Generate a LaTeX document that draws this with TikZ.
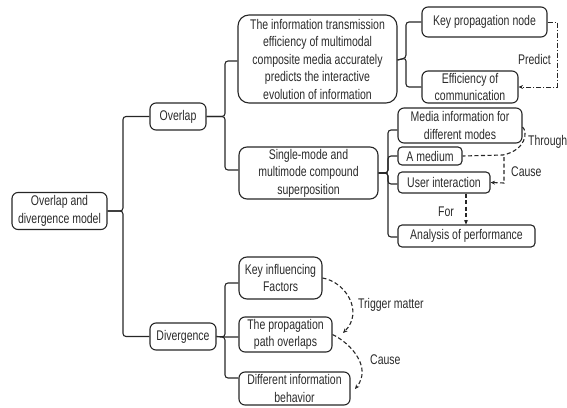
\documentclass[tikz,border=0pt]{standalone}
\usepackage{fontspec}
\setmainfont{Liberation Sans}[FakeStretch=0.75]
\usetikzlibrary{arrows.meta}
\definecolor{txt}{HTML}{2A2A2A}
\tikzset{
  box/.style={draw=black!85, line width=1.1pt, rounded corners=6pt, align=center, inner sep=0pt,
    text=txt, font=\fontsize{14}{17.5}\selectfont},
  tree/.style={draw=black!85, line width=1.1pt, rounded corners=3pt},
  rel/.style={draw=black!85, line width=1.1pt, dashed, dash pattern=on 4pt off 2.5pt},
  reldot/.style={draw=black!85, line width=1pt, dash pattern=on 5pt off 2pt on 1pt off 2pt},
  tip/.style={-{Stealth[length=4.5pt,width=4pt]}},
  lbl/.style={text=txt, font=\fontsize{14}{17.5}\selectfont, inner sep=0pt}
}
\begin{document}
\begin{tikzpicture}[x=1pt,y=-1pt]
\useasboundingbox (0,0) rectangle (567,407);
% nodes
\node[box, minimum width=95pt, minimum height=37pt] (root) at (59.5,211) {Overlap and\\divergence model};
\node[box, minimum width=56pt, minimum height=27pt] (ov) at (178,116.5) {Overlap};
\node[box, minimum width=66pt, minimum height=27pt] (dv) at (183,336.5) {Divergence};
\node[box, rounded corners=11pt, minimum width=159pt, minimum height=88pt] (big) at (317.5,59) {The information transmission\\efficiency of multimodal\\composite media accurately\\predicts the interactive\\evolution of information};
\node[box, rounded corners=8pt, minimum width=139pt, minimum height=52pt] (single) at (308.5,173) {Single-mode and\\multimode compound\\superposition};
\node[box, minimum width=125pt, minimum height=30pt] (keyp) at (484.5,22) {Key propagation node};
\node[box, minimum width=96pt, minimum height=32pt] (eff) at (470,87) {Efficiency of\\communication};
\node[box, minimum width=124pt, minimum height=35pt] (media) at (460,125.5) {Media information for\\different modes};
\node[box, rounded corners=4pt, minimum width=64pt, minimum height=18pt] (amed) at (430,156) {A medium};
\node[box, rounded corners=4pt, minimum width=92pt, minimum height=21pt] (user) at (444,182.5) {User interaction};
\node[box, rounded corners=4pt, minimum width=137pt, minimum height=22pt] (anal) at (466.5,236) {Analysis of performance};
\node[box, rounded corners=8pt, minimum width=83pt, minimum height=42pt] (keyi) at (280.5,278) {Key influencing\\Factors};
\node[box, minimum width=93pt, minimum height=35pt] (prop) at (285.5,334.5) {The propagation\\path overlaps};
\node[box, minimum width=111pt, minimum height=33pt] (diff) at (294.5,388.5) {Different information\\behavior};
% tree connectors
\draw[tree] (root.east) -- (123,211) |- (ov.west);
\draw[tree] (root.east) -- (123,211) |- (dv.west);
\draw[tree] (ov.east) -- (225,116.5) |- (big.west |- 0,61);
\draw[tree] (ov.east) -- (225,116.5) |- (single.west |- 0,170);
\draw[tree] (big.east |- 0,60) -- (406,58) |- (keyp.west);
\draw[tree] (big.east |- 0,60) -- (406,58) |- (eff.west);
\draw[tree] (single.east |- 0,173) -- (388,173) |- (media.west |- 0,130);
\draw[tree] (single.east |- 0,173) -- (388,173) |- (amed.west);
\draw[tree] (single.east |- 0,173) -- (388,173) |- (user.west |- 0,184);
\draw[tree] (single.east |- 0,173) -- (388,173) |- (anal.west |- 0,237);
\draw[tree] (dv.east) -- (225,337) |- (keyi.west |- 0,283);
\draw[tree] (dv.east) -- (225,337) -- (prop.west |- 0,337);
\draw[tree] (dv.east) -- (225,337) |- (diff.west |- 0,378);
% relations
\coordinate (pr1) at (557,22);
\coordinate (pr2) at (557,87);
\draw[reldot, tip] (keyp.east) -- (pr1) -- (pr2) -- (eff.east);
\node[lbl, anchor=east] (predict) at (551,59) {Predict};
\draw[rel] (media.east |- 0,127) .. controls (528,132) and (526,150) .. (503,155) -- (amed.east);
\node[lbl, anchor=west] (through) at (528,142) {Through};
\coordinate (c1) at (504,157);
\coordinate (c2) at (504,183);
\draw[rel, tip] (c1) -- (c2) -- (user.east);
\node[lbl, anchor=west] (cause1) at (511,172) {Cause};
\draw[rel, tip] (user.south -| 466,0) -- (anal.north -| 466,0);
\node[lbl] (for) at (446,212) {For};
\draw[rel, tip] (keyi.east) .. controls (346,282) and (364,312) .. (343,333);
\node[lbl, anchor=west] (trig) at (358,305) {Trigger matter};
\draw[rel, tip] (prop.east) .. controls (352,344) and (372,368) .. (355,389);
\node[lbl, anchor=west] (cause2) at (370,360) {Cause};
\end{tikzpicture}
\end{document}
